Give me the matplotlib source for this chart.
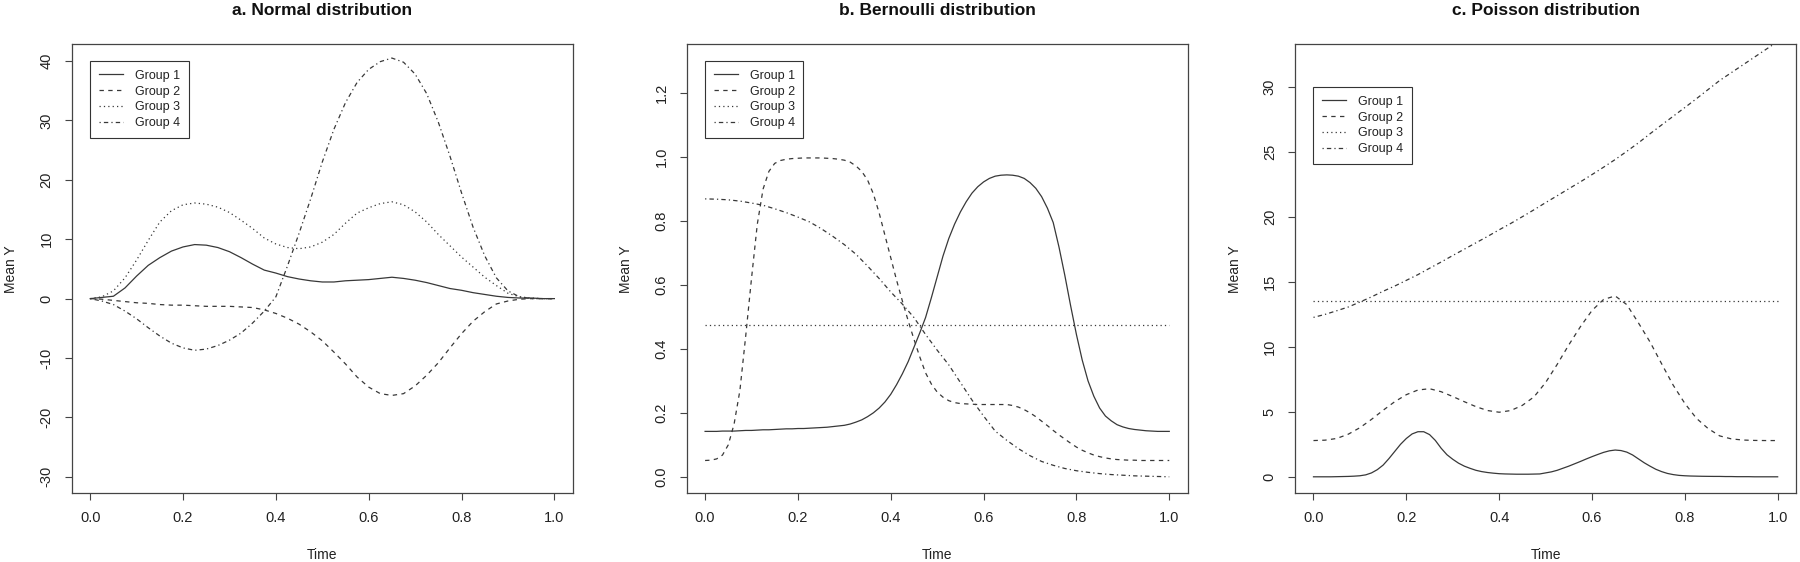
import numpy as np
import matplotlib.pyplot as plt

plt.rcParams['font.family'] = ['Liberation Sans', 'DejaVu Sans']

# time grids (steps 0.025 and 0.0125)
time = np.arange(41) * 0.025
time_fine = np.arange(81) * 0.0125

# a. Normal distribution
norm_g1 = [0.0, 0.2, 0.4, 1.8, 3.8, 5.6, 6.9, 8.0, 8.7, 9.1, 9.0, 8.6, 7.9, 6.9,
           5.8, 4.8, 4.3, 3.7, 3.3, 3.0, 2.8, 2.8, 3.0, 3.1, 3.2, 3.4, 3.6, 3.4,
           3.1, 2.7, 2.2, 1.7, 1.4, 1.0, 0.7, 0.4, 0.2, 0.1, 0.1, 0.0, 0.0]
norm_g2 = [0.0, -0.1, -0.3, -0.5, -0.7, -0.8, -1.0, -1.1, -1.1, -1.2, -1.3, -1.3,
           -1.3, -1.4, -1.5, -1.9, -2.5, -3.3, -4.3, -5.6, -7.1, -9.0, -11.0,
           -13.2, -14.9, -16.0, -16.3, -16.0, -14.7, -12.9, -10.8, -8.3, -5.9,
           -3.8, -2.2, -0.9, -0.4, -0.1, 0.0, 0.0, 0.0]
norm_g3 = [0.0, 0.3, 1.3, 3.5, 6.5, 9.8, 12.9, 14.8, 15.8, 16.1, 15.9, 15.4, 14.5,
           13.2, 11.8, 10.2, 9.2, 8.6, 8.4, 8.7, 9.5, 10.8, 12.7, 14.4, 15.3, 16.0,
           16.3, 15.8, 14.6, 12.9, 10.8, 8.9, 7.0, 5.3, 3.6, 2.2, 0.9, 0.3, 0.1,
           0.0, 0.0]
norm_g4 = [0.0, -0.4, -1.0, -2.1, -3.4, -4.9, -6.3, -7.5, -8.3, -8.7, -8.5, -7.9,
           -7.0, -5.8, -4.1, -2.1, 0.3, 5.5, 11.0, 16.8, 23.0, 28.5, 33.0, 36.4,
           38.6, 39.9, 40.5, 39.8, 37.8, 34.5, 29.7, 24.0, 17.8, 12.0, 7.2, 3.5,
           1.3, 0.3, 0.0, 0.0, 0.0]

# b. Bernoulli distribution
bern_g1 = [0.142, 0.142, 0.142, 0.143, 0.143, 0.143, 0.144, 0.145, 0.145, 0.146,
           0.147, 0.147, 0.148, 0.149, 0.150, 0.150, 0.151, 0.151, 0.152, 0.153,
           0.154, 0.155, 0.157, 0.159, 0.161, 0.165, 0.171, 0.178, 0.188, 0.200,
           0.215, 0.234, 0.258, 0.288, 0.322, 0.360, 0.405, 0.450, 0.498, 0.560,
           0.625, 0.690, 0.745, 0.790, 0.828, 0.860, 0.887, 0.907, 0.922, 0.933,
           0.940, 0.943, 0.944, 0.943, 0.940, 0.933, 0.920, 0.902, 0.876, 0.840,
           0.795, 0.718, 0.630, 0.535, 0.445, 0.365, 0.300, 0.252, 0.215, 0.190,
           0.175, 0.163, 0.156, 0.151, 0.148, 0.146, 0.144, 0.143, 0.142, 0.142,
           0.142]
bern_g2 = [0.051, 0.052, 0.056, 0.068, 0.100, 0.165, 0.270, 0.440, 0.620, 0.790,
           0.900, 0.955, 0.980, 0.989, 0.993, 0.995, 0.996, 0.997, 0.997, 0.997,
           0.997, 0.996, 0.995, 0.993, 0.990, 0.984, 0.972, 0.955, 0.928, 0.885,
           0.825, 0.755, 0.685, 0.615, 0.550, 0.488, 0.430, 0.375, 0.325, 0.290,
           0.265, 0.249, 0.238, 0.232, 0.229, 0.228, 0.227, 0.226, 0.226, 0.226,
           0.226, 0.226, 0.226, 0.223, 0.218, 0.210, 0.200, 0.188, 0.174, 0.160,
           0.145, 0.131, 0.118, 0.105, 0.093, 0.083, 0.075, 0.068, 0.063, 0.059,
           0.056, 0.054, 0.053, 0.052, 0.052, 0.051, 0.051, 0.051, 0.051, 0.051,
           0.051]
bern_g3 = [0.476] * 41
bern_g4 = [0.869, 0.868, 0.866, 0.862, 0.856, 0.849, 0.838, 0.826, 0.812, 0.797,
           0.776, 0.752, 0.726, 0.696, 0.659, 0.620, 0.578, 0.540, 0.498, 0.445,
           0.396, 0.350, 0.295, 0.240, 0.190, 0.143, 0.114, 0.088, 0.066, 0.048,
           0.036, 0.026, 0.019, 0.014, 0.010, 0.007, 0.005, 0.003, 0.002, 0.001,
           0.000]

# c. Poisson distribution
pois_g1 = [0.0, 0.0, 0.0, 0.0, 0.01, 0.02, 0.03, 0.05, 0.08, 0.15,
           0.3, 0.55, 0.9, 1.4, 1.95, 2.5, 2.95, 3.3, 3.47, 3.47,
           3.25, 2.8, 2.2, 1.7, 1.35, 1.05, 0.82, 0.65, 0.5, 0.4,
           0.33, 0.28, 0.24, 0.22, 0.21, 0.2, 0.2, 0.2, 0.21, 0.22,
           0.3, 0.38, 0.5, 0.66, 0.82, 1.0, 1.18, 1.37, 1.55, 1.72,
           1.88, 2.0, 2.06, 2.02, 1.9, 1.68, 1.38, 1.08, 0.82, 0.58,
           0.4, 0.26, 0.17, 0.11, 0.08, 0.06, 0.05, 0.04, 0.035, 0.03,
           0.03, 0.02, 0.02, 0.01, 0.01, 0.01, 0.0, 0.0, 0.0, 0.0,
           0.0]
pois_g2 = [2.79, 2.82, 2.95, 3.28, 3.78, 4.42, 5.12, 5.78, 6.32, 6.68, 6.78, 6.55,
           6.18, 5.78, 5.4, 5.1, 4.97, 5.1, 5.5, 6.15, 7.25, 8.65, 10.15, 11.55,
           12.8, 13.65, 13.92, 13.25, 11.85, 10.38, 8.7, 7.05, 5.65, 4.5, 3.72,
           3.15, 2.92, 2.83, 2.8, 2.79, 2.79]
pois_g3 = [13.55] * 41
pois_g4 = [12.27, 12.5, 12.78, 13.07, 13.45, 13.85, 14.28, 14.68, 15.12, 15.56,
           16.05, 16.53, 17.03, 17.52, 18.01, 18.5, 19.01, 19.5, 20.02, 20.55,
           21.1, 21.63, 22.17, 22.7, 23.26, 23.83, 24.42, 25.05, 25.7, 26.4, 27.08,
           27.75, 28.42, 29.1, 29.8, 30.5, 31.1, 31.7, 32.3, 32.9, 33.5]

labels = ['Group 1', 'Group 2', 'Group 3', 'Group 4']
styles = ['-', (0, (3.5, 3.5)), (0, (1, 2.5)), (0, (1, 2.5, 3.5, 2.5))]


def xs_for(vals):
    return time_fine if len(vals) == len(time_fine) else time


panels = [
    ('a. Normal distribution', [norm_g1, norm_g2, norm_g3, norm_g4],
     (-30, 40), np.arange(-30, 41, 10), '{:.0f}', 40),
    ('b. Bernoulli distribution', [bern_g1, bern_g2, bern_g3, bern_g4],
     (0, 1.3), np.arange(0, 1.21, 0.2), '{:.1f}', 1.3),
    ('c. Poisson distribution', [pois_g1, pois_g2, pois_g3, pois_g4],
     (0, 32), np.arange(0, 31, 5), '{:.0f}', 30),
]

fig = plt.figure(figsize=(18, 5.62), dpi=100)
lefts = [0.0398, 0.3814, 0.7194]
line_col = '#383838'

for left, (title, series, (lo, hi), yticks, fmt, leg_y) in zip(lefts, panels):
    ax = fig.add_axes([left, 0.122, 0.2785, 0.799])
    for vals, ls, lab in zip(series, styles, labels):
        ax.plot(xs_for(vals), vals, color=line_col, lw=0.9, linestyle=ls, label=lab)

    # R style 4% padding
    pad = 0.04 * (hi - lo)
    ax.set_ylim(lo - pad, hi + pad)
    ax.set_xlim(-0.04, 1.04)

    xt = np.arange(0, 1.01, 0.2)
    ax.set_xticks(xt)
    ax.set_xticklabels(['{:.1f}'.format(v) for v in xt])
    ax.set_yticks(yticks)
    ax.set_yticklabels([fmt.format(v) for v in yticks], rotation=90, va='center')
    ax.tick_params(direction='out', length=5, width=0.8, color='#444444',
                   labelsize=10.5, pad=8, labelcolor='#222222')
    for sp in ax.spines.values():
        sp.set_color('#444444')
        sp.set_linewidth(0.9)

    ax.set_xlabel('Time', fontsize=10, color='#222222', va='center')
    ax.xaxis.set_label_coords(0.5, -0.136)
    ax.set_ylabel('Mean Y', fontsize=10, color='#222222', va='center')
    ax.yaxis.set_label_coords(-0.12, 0.5)

    ax.set_title(title, fontsize=12.5, fontweight='bold', y=1.075, va='center',
                 pad=0, color='#111111')

    leg = ax.legend(loc='upper left', bbox_to_anchor=(0, leg_y),
                    bbox_transform=ax.transData, borderaxespad=0,
                    fontsize=9, frameon=True, fancybox=False, framealpha=1,
                    edgecolor='#333333', handlelength=1.9, handletextpad=0.96,
                    borderpad=0.7, labelspacing=0.3)
    leg.get_frame().set_linewidth(0.8)
    for txt in leg.get_texts():
        txt.set_color('#222222')

fig.savefig('out.png', dpi=100, facecolor='white')
